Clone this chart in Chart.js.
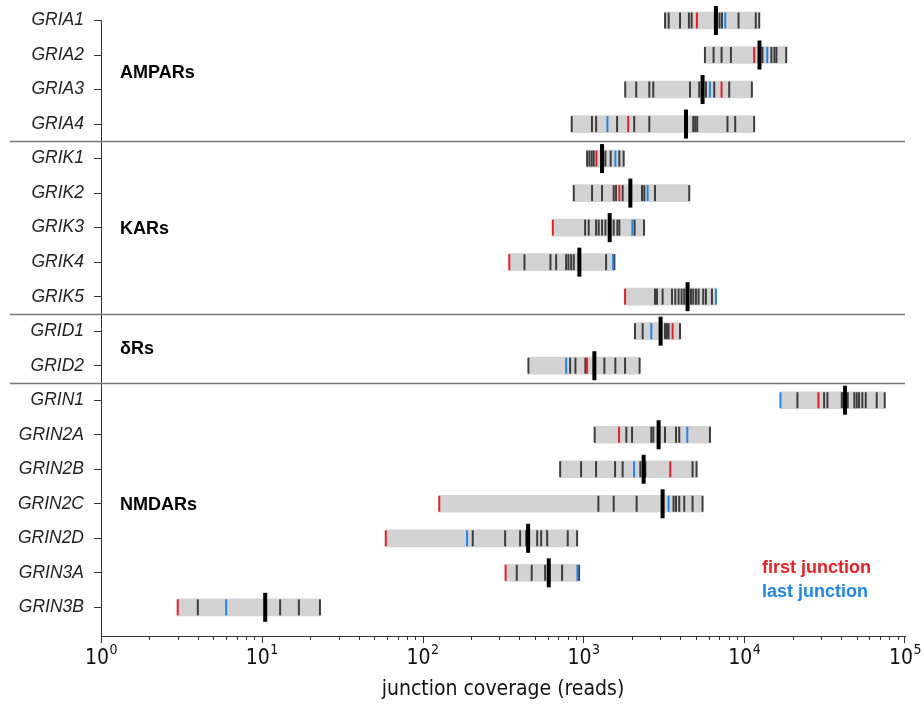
<!DOCTYPE html>
<html><head><meta charset="utf-8">
<script src="https://cdn.jsdelivr.net/npm/chart.js@4"></script>
<style>html,body{margin:0;padding:0;background:#fff}#wrap{width:924px;height:707px;position:relative}</style>
</head><body><div id="wrap"><canvas id="c" width="924" height="707" style="width:924px;height:707px"></canvas></div>
<script>
// ---------- data ----------
const genes = ['GRIA1','GRIA2','GRIA3','GRIA4','GRIK1','GRIK2','GRIK3','GRIK4','GRIK5','GRID1','GRID2','GRIN1','GRIN2A','GRIN2B','GRIN2C','GRIN2D','GRIN3A','GRIN3B'];
const groupNames = ['AMPARs','KARs','\u03B4Rs','NMDARs'];
const groupSizes = [4, 5, 2, 7];
// other junctions (reads)
const junctions = [
  [3220,3390,3990,4530,4710,7020,7270,9220,11800,12400],
  [5700,6450,7230,8270,12990,14770,15420,15870,18240],
  [1820,2130,2570,2720,4600,5250,5780,6510,8070,11160],
  [846,1130,1200,1620,2070,2570,4820,4960,5100,7870,8790,11530],
  [1054,1090,1126,1159,1370,1478,1673,1780],
  [871,1132,1306,1543,1596,1754,2316,2392,2788,4552],
  [1025,1079,1199,1245,1306,1370,1543,1626,1673,2082,2383],
  [430,624,677,781,807,839,871,1384,1558],
  [2788,2869,3109,3556,3727,3908,4080,4238,4667,4822,5011,5203,5563,5781,6300],
  [2094,2336,3217,3311,3388,3988],
  [455,827,892,1029,1350,1580,1816,2237],
  [21430,31400,32920,40450,41380,44050,48420,50120,51800,54290,56990,66700,74800],
  [1175,1849,2007,2645,2721,3217,3765,3945,6123],
  [717,967,1199,1574,1754,2260,2427,4775,5055],
  [1239,1543,2143,3637,3765,3945,4238,4775,5508],
  [205,326,404,441,516,546,595,799,914],
  [385,477,578,737,940],
  [4,13,17,23]
];
const firstJunction = [5080,11530,7230,1900,1204,1673,645,346,1816,3586,1054,28940,1666,3470,127,59,328,3];
const lastJunction  = [7620,13900,6120,1410,1580,2508,2015,1529,6672,2645,781,16810,4426,2065,3388,189,918,6];
const medianCoverage = [6670,12450,5510,4345,1306,1959,1457,944,4444,3020,1170,42370,2936,2369,3109,453,609,10.5];
const decadeExponents = [0,1,2,3,4,5];
const legendLabels = ['first junction','last junction'];
const axisTitle = 'junction coverage (reads)';

// ---------- styles ----------
const SANS = "'Liberation Sans', Arial, sans-serif";
const NARROW = "'Liberation Sans Narrow', 'DejaVu Sans Condensed', 'Liberation Sans', sans-serif";
const RED = '#ee1c25', BLUE = '#1f86f0', GRAY_BAR = '#d3d3d3', TICK_DARK = '#3d3d3d';

// ---------- build datasets ----------
const ranges = genes.map((g, i) => {
  const all = junctions[i].concat([firstJunction[i], lastJunction[i], medianCoverage[i]]);
  return {x: [Math.min(...all), Math.max(...all)], y: i};
});
const junctionPts = [];
junctions.forEach((arr, i) => arr.forEach(v => junctionPts.push({x: v, y: i})));
const firstPts = firstJunction.map((v, i) => ({x: v, y: i}));
const lastPts = lastJunction.map((v, i) => ({x: v, y: i}));
const medianPts = medianCoverage.map((v, i) => ({x: v, y: i}));

function tickSet(data, color, r, w, order) {
  return {type: 'scatter', data, order, clip: false, pointStyle: 'line', pointRotation: 90,
    pointRadius: r, pointHoverRadius: r, pointBorderColor: color, pointBackgroundColor: color,
    pointBorderWidth: w, pointHoverBorderWidth: w, showLine: false};
}

const overlay = {
  id: 'overlay',
  afterDraw(chart) {
    const ctx = chart.ctx, xs = chart.scales.x, ys = chart.scales.y, ca = chart.chartArea;
    ctx.save();
    // group separators and labels
    let start = 0;
    groupSizes.forEach((n, gi) => {
      const end = start + n - 1;
      if (gi < groupSizes.length - 1) {
        const y = Math.round(ys.getPixelForValue(end + 0.5)) + 0.5;
        ctx.strokeStyle = '#777'; ctx.lineWidth = 1.3;
        ctx.beginPath(); ctx.moveTo(10, y); ctx.lineTo(ca.right, y); ctx.stroke();
      }
      ctx.fillStyle = '#000'; ctx.font = 'bold 18px ' + SANS;
      ctx.textAlign = 'left'; ctx.textBaseline = 'middle';
      ctx.fillText(groupNames[gi], ca.left + 19, ys.getPixelForValue((start + end) / 2) + 1);
      start = end + 1;
    });
    // x tick marks (log minor + major)
    ctx.strokeStyle = '#333'; ctx.lineWidth = 1;
    for (let e = 0; e < 5; e++) {
      for (let m = 1; m <= 9; m++) {
        const px = Math.round(xs.getPixelForValue(m * Math.pow(10, e))) + 0.5;
        ctx.beginPath(); ctx.moveTo(px, ca.bottom); ctx.lineTo(px, ca.bottom + (m === 1 ? 7 : 4)); ctx.stroke();
      }
    }
    const pEnd = Math.round(xs.getPixelForValue(1e5)) - 0.5;
    ctx.beginPath(); ctx.moveTo(pEnd, ca.bottom); ctx.lineTo(pEnd, ca.bottom + 7); ctx.stroke();
    // x tick labels 10^n
    ctx.fillStyle = '#111'; ctx.textBaseline = 'alphabetic'; ctx.textAlign = 'left';
    decadeExponents.forEach(e => {
      const px = xs.getPixelForValue(Math.pow(10, e));
      ctx.font = '21px ' + NARROW; const w1 = ctx.measureText('10').width;
      ctx.font = '14px ' + NARROW; const w2 = ctx.measureText(String(e)).width;
      const x0 = px - (w1 + w2) / 2;
      ctx.font = '21px ' + NARROW; ctx.fillText('10', x0, ca.bottom + 28);
      ctx.font = '14px ' + NARROW; ctx.fillText(String(e), x0 + w1 + 0.5, ca.bottom + 18);
    });
    // legend text
    ctx.font = 'bold 18px ' + SANS; ctx.textBaseline = 'middle';
    ctx.fillStyle = RED; ctx.fillText(legendLabels[0], ca.right - 143, 568);
    ctx.fillStyle = BLUE; ctx.fillText(legendLabels[1], ca.right - 143, 592);
    ctx.restore();
  }
};

new Chart(document.getElementById('c'), {
  type: 'bar',
  data: {
    datasets: [
      {type: 'bar', indexAxis: 'y', data: ranges, backgroundColor: GRAY_BAR, borderWidth: 0,
       barThickness: 17, borderSkipped: false, order: 4, clip: false},
      tickSet(junctionPts, TICK_DARK, 8, 2, 3),
      tickSet(firstPts, RED, 8, 2, 2),
      tickSet(lastPts, BLUE, 8, 2, 1),
      tickSet(medianPts, '#000', 14.5, 4, 0)
    ]
  },
  options: {
    indexAxis: 'y',
    responsive: false,
    maintainAspectRatio: false,
    devicePixelRatio: 1,
    animation: false,
    events: [],
    layout: {padding: {left: 15, right: 19, top: 15, bottom: 0}},
    plugins: {legend: {display: false}, tooltip: {enabled: false}},
    scales: {
      x: {
        type: 'logarithmic', axis: 'x', position: 'bottom', min: 1, max: 100000,
        grid: {display: false},
        border: {display: true, color: '#333', width: 1},
        ticks: {display: false},
        title: {display: true, text: axisTitle, color: '#111',
                font: {family: NARROW, size: 21}, padding: {top: 30, bottom: 5}},
        afterFit: s => { s.height = 71; }
      },
      y: {
        type: 'linear', axis: 'y', position: 'left', min: 0, max: 17.83, reverse: true,
        offset: false,
        afterBuildTicks: s => { s.ticks = genes.map((g, i) => ({value: i})); },
        ticks: {autoSkip: false, padding: 10, color: '#222',
                font: {family: SANS, size: 17.5, style: 'italic'},
                callback: v => genes[v]},
        grid: {display: true, offset: false, drawOnChartArea: false, drawTicks: true, tickLength: 7, tickColor: '#333'},
        border: {display: true, color: '#333', width: 1},
        afterFit: s => { s.width = 86; }
      }
    }
  },
  plugins: [overlay]
});
</script>
</body></html>
